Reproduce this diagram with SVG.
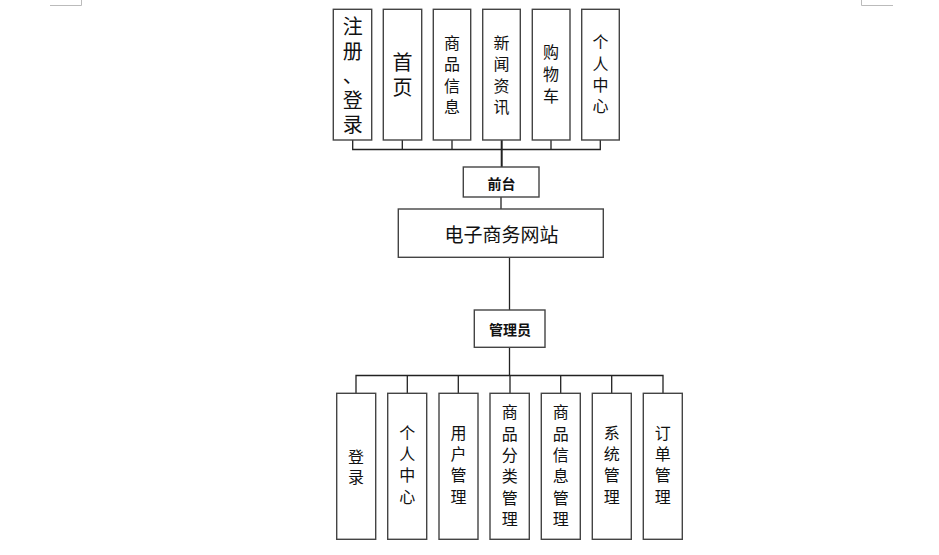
<svg xmlns="http://www.w3.org/2000/svg" width="939" height="555" viewBox="0 0 939 555">
<style>
.box{fill:#fff;stroke:#444;stroke-width:1.4}
.ln{fill:none;stroke:#222;stroke-width:1.3}
.t{font-family:"Noto Sans CJK SC","Noto Sans",sans-serif;fill:#111;text-anchor:middle}
.h{dominant-baseline:central}
.vt{writing-mode:vertical-rl}
.big{font-size:19px}
.v{font-size:16px;letter-spacing:5.3px}
.v20{font-size:20px}
.b{font-size:14px;font-weight:bold}
.mark{fill:none;stroke:#bbb;stroke-width:1}
</style>
<rect width="939" height="555" fill="#fff"/>
<path class="mark" d="M50 5.5H81.5V0M861.5 0V5.5H893"/>
<g id="connectors">
<path class="ln" d="M352.7 140V149.5H600.3V140M402.3 140V149.5M452 140V149.5M551 140V149.5"/>
<path class="ln" style="stroke-width:2" d="M501.7 140V167"/>
<path class="ln" d="M501 197V209"/>
<path class="ln" d="M509.5 257V310"/>
<path class="ln" d="M509.5 347V375.5"/>
<path class="ln" d="M356 393V375.5H663V393M407.3 375.5V393M458.3 375.5V393M510 375.5V393M560.7 375.5V393M611.7 375.5V393"/>
</g>
<g id="top1"><rect class="box" x="333.3" y="9.3" width="38.4" height="130.7"/><text class="t vt v20" style="letter-spacing:4.5px" x="352.7" y="41.3">注册</text><text class="t h v20" x="352.7" y="74">、</text><text class="t vt v20" style="letter-spacing:4.5px" x="352.7" y="114.8">登录</text></g>
<g id="top2"><rect class="box" x="383.3" y="9.3" width="38.4" height="130.7"/><text class="t vt v20" style="letter-spacing:5px" x="402.5" y="77">首页</text></g>
<g id="top3"><rect class="box" x="433.3" y="9.3" width="37.4" height="130.7"/><text class="t vt v" x="452" y="77.5">商品信息</text></g>
<g id="top4"><rect class="box" x="482.7" y="9.3" width="37.6" height="130.7"/><text class="t vt v" x="501.5" y="77.5">新闻资讯</text></g>
<g id="top5"><rect class="box" x="532.3" y="9.3" width="37.7" height="130.7"/><text class="t vt v" style="letter-spacing:6px" x="551" y="77">购物车</text></g>
<g id="top6"><rect class="box" x="581.7" y="9.3" width="37.6" height="130.7"/><text class="t vt v" x="600.5" y="77">个人中心</text></g>
<g id="qiantai"><rect class="box" x="463.3" y="167" width="75.7" height="30"/><text class="t h b" x="501.5" y="182.5">前台</text></g>
<g id="main"><rect class="box" x="398.3" y="209" width="205" height="48.3"/><text class="t h big" x="501.5" y="233.5">电子商务网站</text></g>
<g id="admin"><rect class="box" x="474.3" y="310" width="70.7" height="37.3"/><text class="t h b" x="510" y="328.5">管理员</text></g>
<g id="b1"><rect class="box" x="336.7" y="393.3" width="39" height="146"/><text class="t vt v" style="letter-spacing:4px" x="356" y="469">登录</text></g>
<g id="b2"><rect class="box" x="387.7" y="393.3" width="39" height="146"/><text class="t vt v" x="407.2" y="467.3">个人中心</text></g>
<g id="b3"><rect class="box" x="439" y="393.3" width="39" height="146"/><text class="t vt v" x="458.5" y="467.3">用户管理</text></g>
<g id="b4"><rect class="box" x="490" y="393.3" width="39.3" height="146"/><text class="t vt v" x="509.7" y="468.3">商品分类管理</text></g>
<g id="b5"><rect class="box" x="541.3" y="393.3" width="39" height="146"/><text class="t vt v" x="560.8" y="468.3">商品信息管理</text></g>
<g id="b6"><rect class="box" x="592.3" y="393.3" width="39" height="146"/><text class="t vt v" x="611.8" y="467.3">系统管理</text></g>
<g id="b7"><rect class="box" x="643.3" y="393.3" width="39" height="146"/><text class="t vt v" x="662.8" y="467.3">订单管理</text></g>
</svg>
